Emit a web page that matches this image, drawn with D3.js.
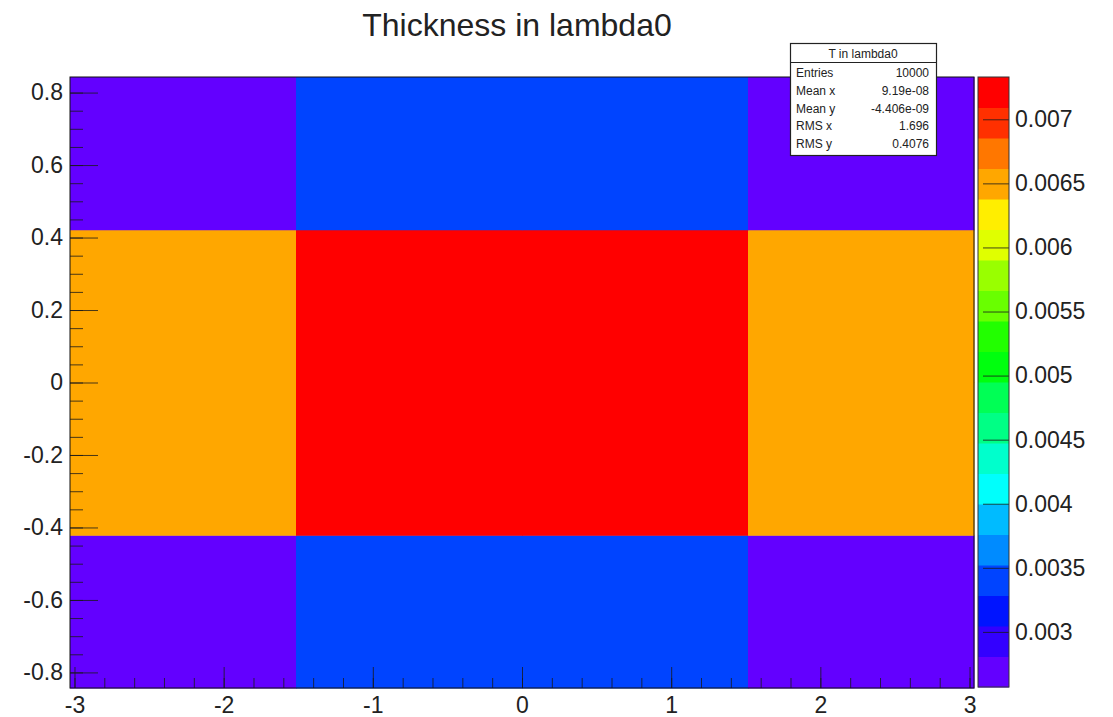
<!DOCTYPE html>
<html>
<head>
<meta charset="utf-8">
<script src="https://cdn.jsdelivr.net/npm/d3@7"></script>
<style>
  body { margin: 0; background: #fff; }
  text { font-family: "Liberation Sans", Arial, sans-serif; fill: #222; }
</style>
</head>
<body>
<svg width="1113" height="717"></svg>
<script>
var svg = d3.select('svg');

// bin edges (4 x 4 bins)
var xEdges = [-3.03, -1.515, 0, 1.515, 3.03];
var yEdges = [-0.843, -0.4215, 0, 0.4215, 0.843];

// bin contents, one row per y bin, bottom row first
var rowBottom = [0.00257, 0.0034, 0.0034, 0.00257];
var rowLow    = [0.0065, 0.00733, 0.00733, 0.0065];
var rowHigh   = [0.0065, 0.00733, 0.00733, 0.0065];
var rowTop    = [0.00257, 0.0034, 0.0034, 0.00257];
var rows = [rowBottom, rowLow, rowHigh, rowTop];

// axis ticks
var xTicks = [-3, -2, -1, 0, 1, 2, 3];
var xTickLabels = ['-3', '-2', '-1', '0', '1', '2', '3'];
var yTicks = [-0.8, -0.6, -0.4, -0.2, 0, 0.2, 0.4, 0.6, 0.8];
var yTickLabels = ['-0.8', '-0.6', '-0.4', '-0.2', '0', '0.2', '0.4', '0.6', '0.8'];
var zTicks = [0.003, 0.0035, 0.004, 0.0045, 0.005, 0.0055, 0.006, 0.0065, 0.007];
var zTickLabels = ['0.003', '0.0035', '0.004', '0.0045', '0.005', '0.0055', '0.006', '0.0065', '0.007'];

// stats box
var statsTitle = 'T in lambda0';
var statsNames = ['Entries', 'Mean x', 'Mean y', 'RMS x', 'RMS y'];
var statsValues = ['10000', '9.19e-08', '-4.406e-09', '1.696', '0.4076'];

var chartTitle = 'Thickness in lambda0';

// frame (window.top is read only, so use other names)
var frameL = 70, frameR = 974, frameT = 77, frameB = 688;

var x = d3.scaleLinear().domain([xEdges[0], xEdges[xEdges.length - 1]]).range([frameL, frameR]);
var y = d3.scaleLinear().domain([yEdges[0], yEdges[yEdges.length - 1]]).range([frameB, frameT]);

// root style rainbow palette, 50 colours, 20 contour levels
var nColors = 50, nBands = 20;
var palette = d3.range(nColors).map(function(i){
    return d3.hsl(280 - (i + 1) * 280 / nColors, 1, 0.5).formatHex();
});
var bandColors = d3.range(nBands).map(function(k){
    return palette[Math.floor((k + 0.99) * nColors / nBands)];
});

var allValues = d3.merge(rows);
var zMin = d3.min(allValues), zMax = d3.max(allValues);
var color = d3.scaleQuantize().domain([zMin, zMax]).range(bandColors);

var cells = [];
rows.forEach(function(row, j){
    row.forEach(function(v, i){
        cells.push({x0: xEdges[i], x1: xEdges[i + 1], y0: yEdges[j], y1: yEdges[j + 1], v: v});
    });
});

svg.append('g')
    .selectAll('rect')
    .data(cells)
    .enter()
    .append('rect')
    .attr('x', function(d){ return x(d.x0); })
    .attr('y', function(d){ return y(d.y1); })
    .attr('width', function(d){ return x(d.x1) - x(d.x0) + 0.5; })
    .attr('height', function(d){ return y(d.y0) - y(d.y1) + 0.5; })
    .attr('fill', function(d){ return color(d.v); });

// axes, ticks pointing into the frame
function styleAxis(g){
    g.select('.domain').remove();
    g.selectAll('line').attr('stroke', '#1a1a1a').attr('stroke-opacity', 0.8);
    g.selectAll('text').attr('font-size', 23).attr('fill', '#222')
        .attr('font-family', '"Liberation Sans", Arial, sans-serif');
}

svg.append('g')
    .attr('transform', 'translate(0,' + frameB + ')')
    .call(d3.axisBottom(x).tickValues(d3.range(-3, 3.01, 0.2)).tickSize(-10).tickFormat(''))
    .call(styleAxis);

svg.append('g')
    .attr('transform', 'translate(0,' + frameB + ')')
    .call(d3.axisBottom(x).tickValues(xTicks).tickSize(-21).tickPadding(9)
        .tickFormat(function(d, i){ return xTickLabels[i]; }))
    .call(styleAxis);

svg.append('g')
    .attr('transform', 'translate(' + frameL + ',0)')
    .call(d3.axisLeft(y).tickValues(d3.range(-0.8, 0.81, 0.05)).tickSize(-13).tickFormat(''))
    .call(styleAxis);

svg.append('g')
    .attr('transform', 'translate(' + frameL + ',0)')
    .call(d3.axisLeft(y).tickValues(yTicks).tickSize(-28).tickPadding(7)
        .tickFormat(function(d, i){ return yTickLabels[i]; }))
    .call(styleAxis);

svg.append('rect')
    .attr('x', frameL)
    .attr('y', frameT)
    .attr('width', frameR - frameL)
    .attr('height', frameB - frameT)
    .attr('fill', 'none')
    .attr('stroke', '#111')
    .attr('stroke-width', 1);

// colour bar
var barLeft = 978, barRight = 1009;
var z = d3.scaleLinear().domain([zMin, zMax]).range([687, 77]);
var bandEdges = [zMin].concat(color.thresholds()).concat([zMax]);

svg.append('g')
    .selectAll('rect')
    .data(bandColors)
    .enter()
    .append('rect')
    .attr('x', barLeft)
    .attr('y', function(d, k){ return z(bandEdges[k + 1]); })
    .attr('width', barRight - barLeft)
    .attr('height', function(d, k){ return z(bandEdges[k]) - z(bandEdges[k + 1]) + 0.5; })
    .attr('fill', function(d){ return d; });

svg.append('g')
    .attr('transform', 'translate(' + barRight + ',0)')
    .call(d3.axisRight(z).tickValues(zTicks).tickSize(-26).tickPadding(6)
        .tickFormat(function(d, i){ return zTickLabels[i]; }))
    .call(styleAxis);

svg.append('rect')
    .attr('x', barLeft)
    .attr('y', 77)
    .attr('width', barRight - barLeft)
    .attr('height', 610)
    .attr('fill', 'none')
    .attr('stroke', '#333')
    .attr('stroke-width', 1);

// title
svg.append('text')
    .attr('x', 517)
    .attr('y', 36)
    .attr('text-anchor', 'middle')
    .attr('font-size', 32)
    .text(chartTitle);

// stats box
var sb = svg.append('g');
sb.append('rect')
    .attr('x', 790.5)
    .attr('y', 43.5)
    .attr('width', 146)
    .attr('height', 112)
    .attr('fill', '#fff')
    .attr('stroke', '#222')
    .attr('stroke-width', 1.2);
sb.append('line')
    .attr('x1', 790.5)
    .attr('x2', 936.5)
    .attr('y1', 62.5)
    .attr('y2', 62.5)
    .attr('stroke', '#222')
    .attr('stroke-width', 1.2);
sb.append('text')
    .attr('x', 863)
    .attr('y', 58)
    .attr('text-anchor', 'middle')
    .attr('font-size', 12)
    .text(statsTitle);
sb.selectAll('.sname')
    .data(statsNames)
    .enter()
    .append('text')
    .attr('class', 'sname')
    .attr('x', 796)
    .attr('y', function(d, i){ return 77 + i * 17.8; })
    .attr('font-size', 12)
    .text(function(d){ return d; });
sb.selectAll('.sval')
    .data(statsValues)
    .enter()
    .append('text')
    .attr('class', 'sval')
    .attr('x', 929)
    .attr('y', function(d, i){ return 77 + i * 17.8; })
    .attr('text-anchor', 'end')
    .attr('font-size', 12)
    .text(function(d){ return d; });
</script>
</body>
</html>
